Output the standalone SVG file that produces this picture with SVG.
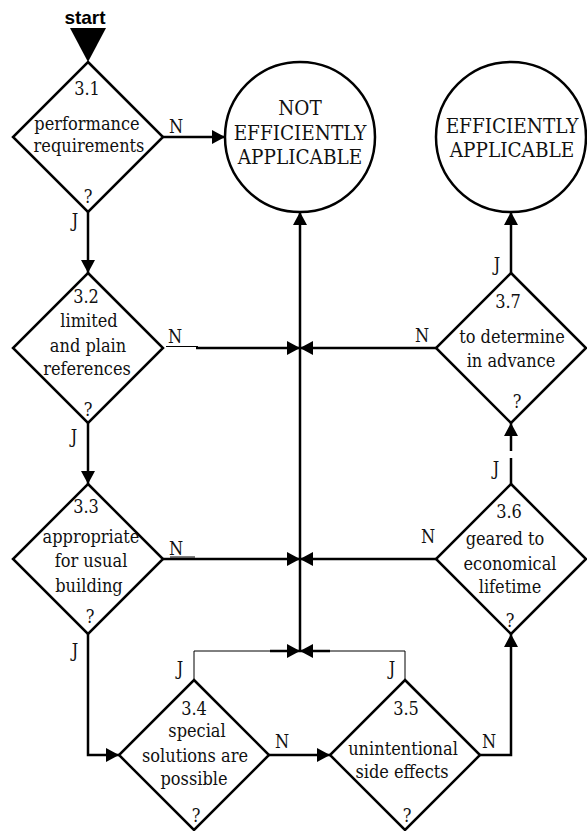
<svg xmlns="http://www.w3.org/2000/svg" width="587" height="831" viewBox="0 0 587 831">
  <style>
    .shape { fill: #fff; stroke: #000; stroke-width: 2.5; }
    .line { fill: none; stroke: #000; stroke-width: 2.5; }
    .thin { fill: none; stroke: #000; stroke-width: 1; }
    text { font-family: 'DejaVu Serif Condensed', 'DejaVu Serif', serif; font-stretch: condensed; font-size: 18px; fill: #111; text-anchor: middle; }
    text.big { font-size: 20.5px; }
    text.start { font-family: 'Liberation Sans', Arial, sans-serif; font-stretch: normal; font-weight: bold; font-size: 19px; fill: #000; }
  </style>
  <defs>
    <marker id="arrow" viewBox="0 0 13 14" refX="13" refY="7" markerWidth="13" markerHeight="14" markerUnits="userSpaceOnUse" orient="auto">
      <path d="M0,0 L13,7 L0,14 z" fill="#000"/>
    </marker>
  </defs>

  <!-- entry point -->
  <g id="start">
    <text class="start" x="85" y="24">start</text>
    <polygon points="70,28 106,28 88,62" fill="#000"/>
  </g>

  <!-- connectors -->
  <g id="connectors">
    <line class="line" x1="163" y1="137" x2="225" y2="137" marker-end="url(#arrow)"/>
    <line class="line" x1="88" y1="212" x2="88" y2="273" marker-end="url(#arrow)"/>
    <line class="line" x1="88" y1="423" x2="88" y2="484" marker-end="url(#arrow)"/>
    <polyline class="line" points="88,634 88,755 119,755" marker-end="url(#arrow)"/>

    <line class="thin" x1="166" y1="346.5" x2="198" y2="346.5"/>
    <line class="line" x1="196" y1="348" x2="300" y2="348" marker-end="url(#arrow)"/>
    <line class="thin" x1="170" y1="557" x2="195" y2="557"/>
    <line class="line" x1="163" y1="559" x2="300" y2="559" marker-end="url(#arrow)"/>
    <line class="line" x1="436" y1="348" x2="300" y2="348" marker-end="url(#arrow)"/>
    <line class="line" x1="436" y1="559" x2="300" y2="559" marker-end="url(#arrow)"/>

    <line class="line" x1="300" y1="651" x2="300" y2="212" marker-end="url(#arrow)"/>

    <polyline class="thin" points="194,680 194,651 271,651"/>
    <line class="line" x1="270" y1="651" x2="300" y2="651" marker-end="url(#arrow)"/>
    <polyline class="thin" points="405,680 405,651 329,651"/>
    <line class="line" x1="330" y1="651" x2="300" y2="651" marker-end="url(#arrow)"/>

    <line class="line" x1="269" y1="755" x2="330" y2="755" marker-end="url(#arrow)"/>
    <polyline class="line" points="480,755 511,755 511,634" marker-end="url(#arrow)"/>

    <line class="line" x1="511" y1="484" x2="511" y2="458"/>
    <line class="line" x1="511" y1="451" x2="511" y2="423" marker-end="url(#arrow)"/>
    <line class="line" x1="511" y1="273" x2="511" y2="212" marker-end="url(#arrow)"/>

    <!-- branch labels -->
    <text x="176" y="133">N</text>
    <text x="75" y="227">J</text>
    <text x="175" y="343">N</text>
    <text x="74" y="443">J</text>
    <text x="176" y="555">N</text>
    <text x="75" y="657">J</text>
    <text x="180" y="675">J</text>
    <text x="282" y="748">N</text>
    <text x="392" y="675">J</text>
    <text x="489" y="748">N</text>
    <text x="496" y="475">J</text>
    <text x="428" y="543">N</text>
    <text x="497" y="271">J</text>
    <text x="422" y="342">N</text>
  </g>

  <g id="d31">
    <polygon class="shape" points="88,62 163,137 88,212 13,137"/>
    <text x="87" y="95">3.1</text>
    <text x="87" y="130">performance</text>
    <text x="89" y="152">requirements</text>
    <text x="88" y="203">?</text>
  </g>

  <g id="not-applicable">
    <circle class="shape" cx="300" cy="137" r="75"/>
    <text class="big" x="300" y="115">NOT</text>
    <text class="big" x="300" y="140">EFFICIENTLY</text>
    <text class="big" x="300" y="164">APPLICABLE</text>
  </g>

  <g id="applicable">
    <circle class="shape" cx="511" cy="137" r="75"/>
    <text class="big" x="512" y="133">EFFICIENTLY</text>
    <text class="big" x="512" y="157">APPLICABLE</text>
  </g>

  <g id="d32">
    <polygon class="shape" points="88,273 163,348 88,423 13,348"/>
    <text x="86" y="303">3.2</text>
    <text x="89" y="327">limited</text>
    <text x="88" y="352">and plain</text>
    <text x="87" y="375">references</text>
    <text x="88" y="416">?</text>
  </g>

  <g id="d33">
    <polygon class="shape" points="88,484 163,559 88,634 13,559"/>
    <text x="86" y="513">3.3</text>
    <text x="91" y="543">appropriate</text>
    <text x="91" y="567">for usual</text>
    <text x="89" y="592">building</text>
    <text x="90" y="623">?</text>
  </g>

  <g id="d34">
    <polygon class="shape" points="194,680 269,755 194,830 119,755"/>
    <text x="194" y="715">3.4</text>
    <text x="197" y="737">special</text>
    <text x="195" y="762">solutions are</text>
    <text x="194" y="785">possible</text>
    <text x="196" y="822">?</text>
  </g>

  <g id="d35">
    <polygon class="shape" points="405,680 480,755 405,830 330,755"/>
    <text x="406" y="715">3.5</text>
    <text x="403" y="755">unintentional</text>
    <text x="402" y="778">side effects</text>
    <text x="407" y="822">?</text>
  </g>

  <g id="d36">
    <polygon class="shape" points="511,484 586,559 511,634 436,559"/>
    <text x="509" y="518">3.6</text>
    <text x="505" y="545">geared to</text>
    <text x="510" y="570">economical</text>
    <text x="510" y="593">lifetime</text>
    <text x="510" y="627">?</text>
  </g>

  <g id="d37">
    <polygon class="shape" points="511,273 586,348 511,423 436,348"/>
    <text x="508" y="308">3.7</text>
    <text x="512" y="343">to determine</text>
    <text x="511" y="367">in advance</text>
    <text x="517" y="408">?</text>
  </g>
</svg>
